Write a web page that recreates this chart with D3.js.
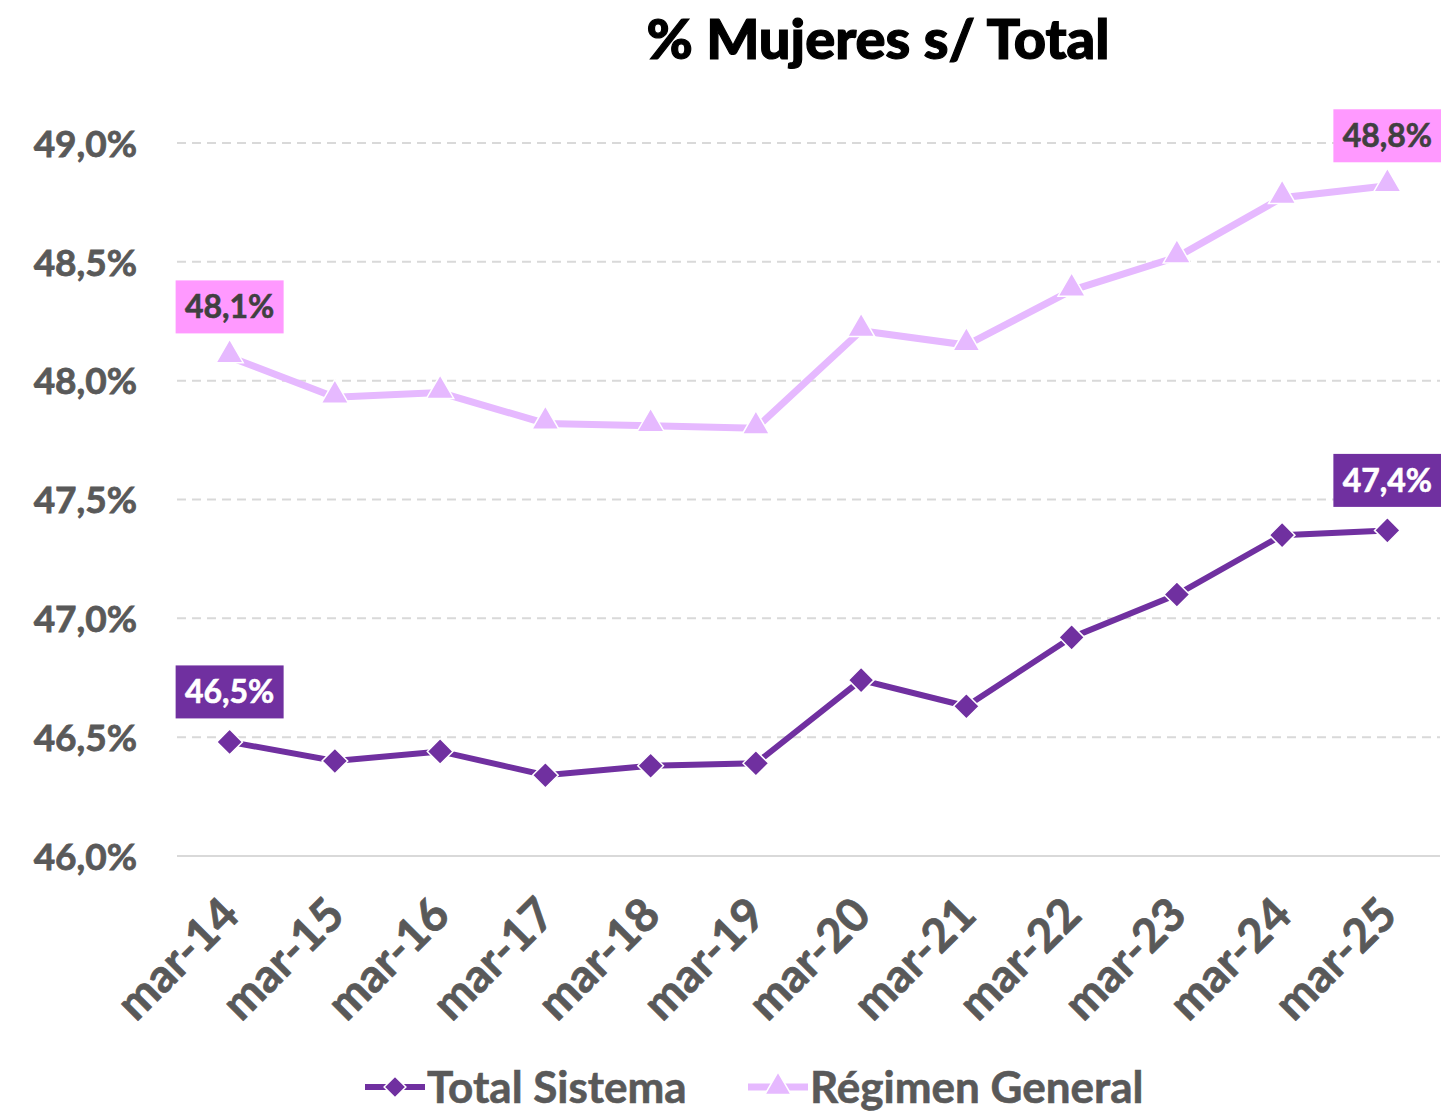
<!DOCTYPE html>
<html>
<head>
<meta charset="utf-8">
<script src="https://cdn.jsdelivr.net/npm/d3@7"></script>
<style>
  body { margin: 0; background: #fff; }
  svg { display: block; font-family: Lato, "Open Sans", sans-serif; }
</style>
</head>
<body>
<svg width="1441" height="1112"></svg>
<script>
// data
const months = ["mar-14", "mar-15", "mar-16", "mar-17", "mar-18", "mar-19",
                "mar-20", "mar-21", "mar-22", "mar-23", "mar-24", "mar-25"];
const totalSistema = [46.48, 46.40, 46.44, 46.34, 46.38, 46.39,
                      46.74, 46.63, 46.92, 47.10, 47.35, 47.37];
const regimenGeneral = [48.10, 47.93, 47.95, 47.82, 47.81, 47.80,
                        48.21, 48.15, 48.38, 48.52, 48.77, 48.82];
const yTicks = [46.0, 46.5, 47.0, 47.5, 48.0, 48.5, 49.0];
const labelIndex = [0, 11];   // only first and last points get a label

const svg = d3.select("svg");
const plotLeft = 177, plotRight = 1440, plotTop = 143, plotBottom = 856;

const x = d3.scalePoint()
    .domain(months)
    .range([plotLeft, plotRight])
    .padding(0.5);

const y = d3.scaleLinear()
    .domain([46, 49])
    .range([plotBottom, plotTop]);

const fmt = d => d3.format(".1f")(d).replace(".", ",") + "%";

// title
svg.append("text")
    .attr("x", 878)
    .attr("y", 59)
    .attr("text-anchor", "middle")
    .style("font-size", "56px")
    .style("font-weight", "900")
    .attr("fill", "#000")
    .attr("stroke", "#000")
    .attr("stroke-width", 1.2)
    .text("% Mujeres s/ Total");

// gridlines
svg.append("g")
  .selectAll("line")
  .data(yTicks)
  .enter().append("line")
    .attr("x1", plotLeft)
    .attr("x2", plotRight)
    .attr("y1", d => y(d))
    .attr("y2", d => y(d))
    .attr("stroke", "#d9d9d9")
    .attr("stroke-width", 2)
    .attr("stroke-dasharray", d => d === 46 ? null : "9,6");

// y axis
const yAxis = svg.append("g")
    .attr("transform", `translate(${plotLeft - 40},0)`)
    .call(d3.axisLeft(y).tickValues(yTicks).tickFormat(d => fmt(d)).tickSize(0));
yAxis.select(".domain").remove();
yAxis.selectAll("text")
    .attr("x", 0)
    .attr("dy", "0.36em")
    .attr("fill", "#595959")
    .attr("stroke", "#595959")
    .attr("stroke-width", 0.8)
    .style("font-size", "37px")
    .style("font-weight", "700")
    .style("font-family", "Lato, sans-serif");

// x axis
const xAxis = svg.append("g")
    .attr("transform", `translate(0,${plotBottom})`)
    .call(d3.axisBottom(x).tickSize(0));
xAxis.select(".domain").remove();
xAxis.selectAll("text")
    .attr("text-anchor", "end")
    .attr("transform", "translate(0,50) rotate(-45)")
    .attr("x", 0)
    .attr("y", 0)
    .attr("dy", "0.35em")
    .attr("fill", "#595959")
    .attr("stroke", "#595959")
    .attr("stroke-width", 0.8)
    .style("font-size", "46px")
    .style("font-weight", "700")
    .style("font-family", "Lato, sans-serif");

const line = d3.line()
    .x((d, i) => x(months[i]))
    .y(d => y(d));

// Régimen General
svg.append("path")
    .datum(regimenGeneral)
    .attr("fill", "none")
    .attr("stroke", "#e6b9ff")
    .attr("stroke-width", 7)
    .attr("d", line);

const triangle = d3.symbol().type(d3.symbolTriangle).size(320);
svg.append("g")
  .selectAll("path")
  .data(regimenGeneral)
  .enter().append("path")
    .attr("d", triangle)
    .attr("transform", (d, i) => `translate(${x(months[i])},${y(d) - 2})`)
    .attr("fill", "#e6b9ff")
    .attr("stroke", "#fff")
    .attr("stroke-width", 1.5);

// Total Sistema
svg.append("path")
    .datum(totalSistema)
    .attr("fill", "none")
    .attr("stroke", "#7030a0")
    .attr("stroke-width", 6)
    .attr("d", line);

const diamond = d3.symbol().type(d3.symbolDiamond2).size(420);
svg.append("g")
  .selectAll("path")
  .data(totalSistema)
  .enter().append("path")
    .attr("d", diamond)
    .attr("transform", (d, i) => `translate(${x(months[i])},${y(d)})`)
    .attr("fill", "#7030a0")
    .attr("stroke", "#fff")
    .attr("stroke-width", 1.5);

// data labels
function addLabels(values, fill, textColor) {
  const g = svg.append("g")
    .selectAll("g")
    .data(labelIndex)
    .enter().append("g")
      .attr("transform", i => `translate(${x(months[i])},${y(values[i]) - 50})`);
  g.append("rect")
      .attr("x", -54)
      .attr("y", -26.5)
      .attr("width", 108)
      .attr("height", 53)
      .attr("fill", fill);
  g.append("text")
      .attr("text-anchor", "middle")
      .attr("dy", "0.36em")
      .attr("fill", textColor)
      .attr("stroke", textColor)
      .attr("stroke-width", 0.6)
      .style("font-size", "32px")
      .style("font-weight", "700")
      .text(i => fmt(values[i]));
}
addLabels(regimenGeneral, "#ff99ff", "#404040");
addLabels(totalSistema, "#7030a0", "#ffffff");

// legend
const legend = [
  { name: "Total Sistema", color: "#7030a0", sym: diamond, x: 365, w: 6 },
  { name: "Régimen General", color: "#e6b9ff", sym: triangle, x: 748, w: 7 }
];
const lg = svg.append("g")
  .selectAll("g")
  .data(legend)
  .enter().append("g")
    .attr("transform", d => `translate(${d.x},1087)`);
lg.append("line")
    .attr("x1", 0).attr("x2", 60)
    .attr("stroke", d => d.color)
    .attr("stroke-width", d => d.w);
lg.append("path")
    .attr("d", d => d.sym.size(300)())
    .attr("transform", "translate(30,0)")
    .attr("fill", d => d.color)
    .attr("stroke", "#fff")
    .attr("stroke-width", 1.5);
lg.append("text")
    .attr("x", 62)
    .attr("dy", "0.36em")
    .attr("fill", "#595959")
    .attr("stroke", "#595959")
    .attr("stroke-width", 0.6)
    .style("font-size", "44px")
    .style("font-weight", "700")
    .text(d => d.name);
</script>
</body>
</html>
